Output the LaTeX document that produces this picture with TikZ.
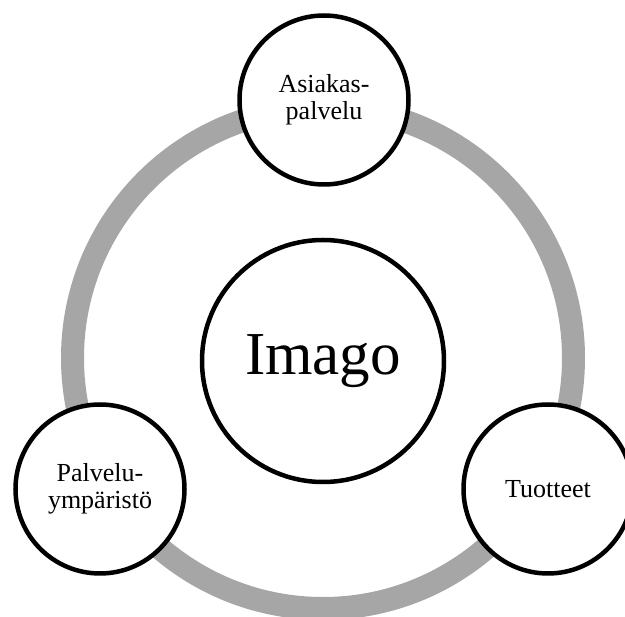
\documentclass[tikz,border=0pt]{standalone}
\usepackage{fontspec}
\setmainfont{Liberation Serif}
\definecolor{ringgray}{RGB}{166,166,166}
\begin{document}
\begin{tikzpicture}[x=1pt,y=-1pt,
  sat/.style={circle,draw=black,line width=4.5pt,fill=white,minimum size=169pt,inner sep=0pt,align=center,
    font=\fontsize{26}{27}\selectfont},
  core/.style={circle,draw=black,line width=4.5pt,fill=white,minimum size=242pt,inner sep=0pt,
    font=\fontsize{61}{61}\selectfont}]
\useasboundingbox (0,0) rectangle (625,617);
\coordinate (rc) at (323,358);
\draw[ringgray,line width=23pt] (rc) circle[radius=250.5pt];
\node[core] (imago) at (323,361) {Imago};
\node[sat] (asiakas) at (324,100) {Asiakas-\\palvelu};
\node[sat] (palvelu) at (100,489) {Palvelu-\\ympäristö};
\node[sat] (tuotteet) at (548,489) {Tuotteet};
\end{tikzpicture}
\end{document}
